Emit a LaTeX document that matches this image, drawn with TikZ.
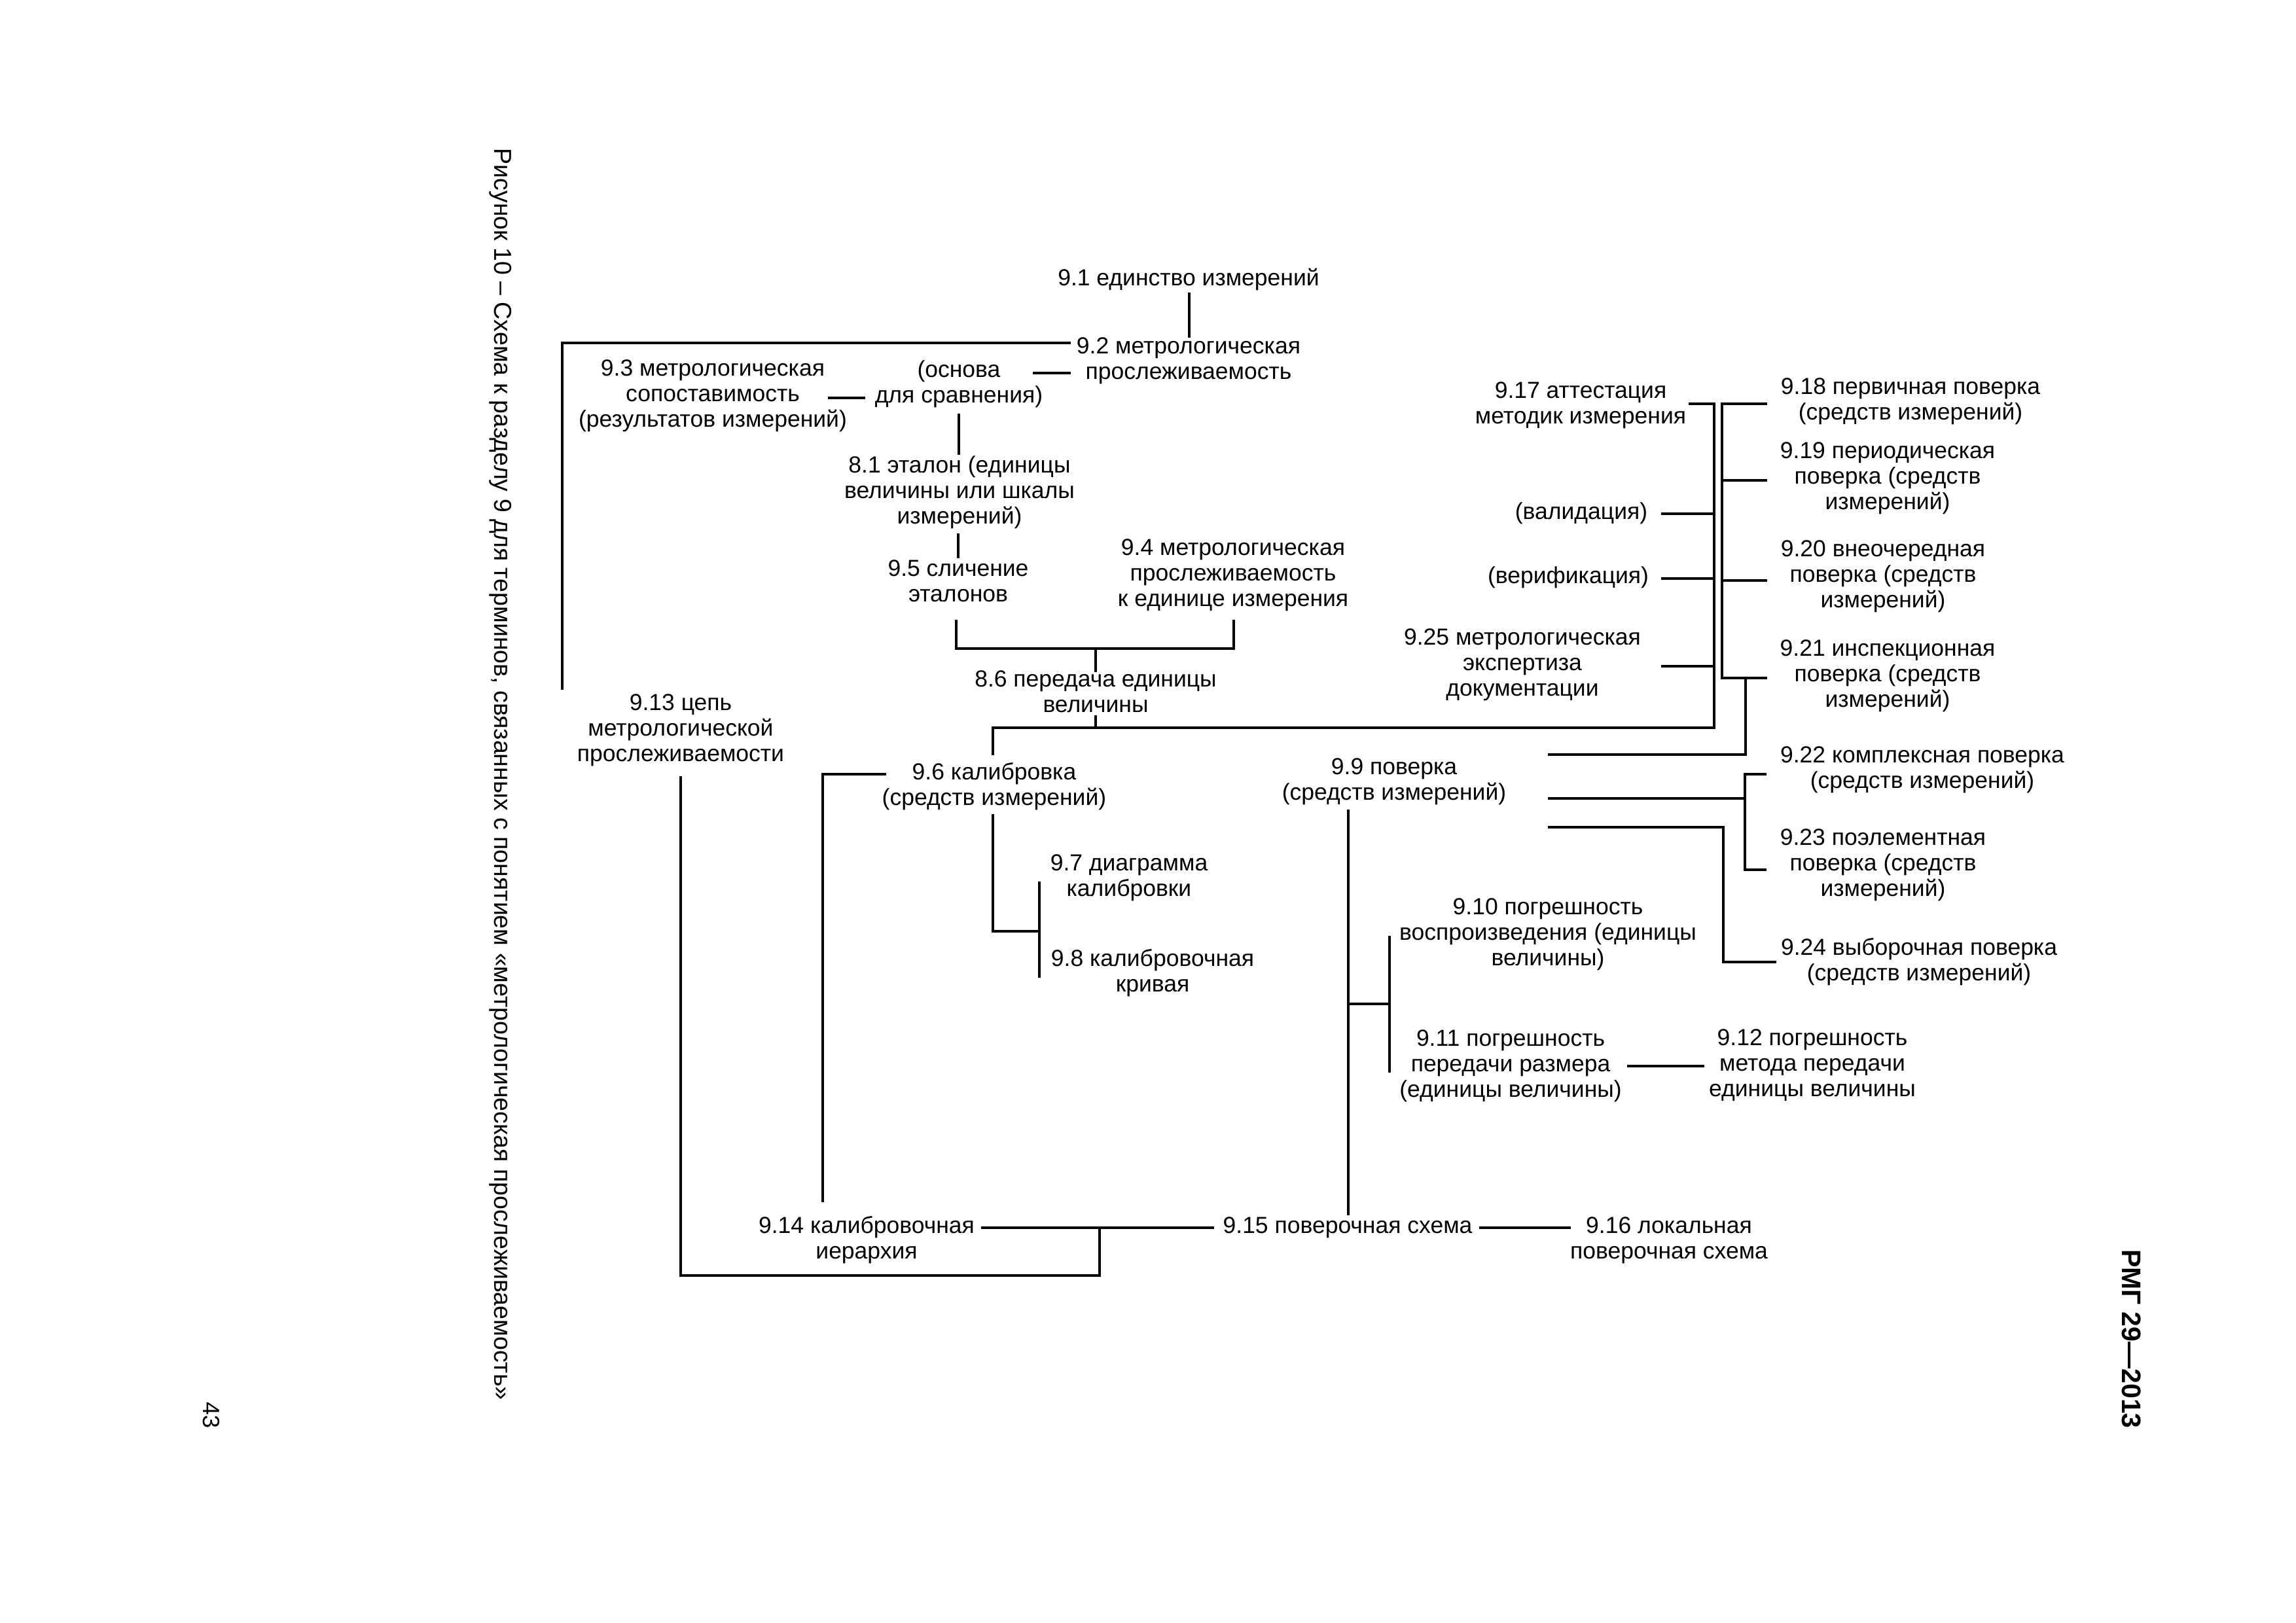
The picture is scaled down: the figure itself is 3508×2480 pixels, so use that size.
\documentclass[tikz,border=0pt]{standalone}
\usepackage{fontspec}
\setmainfont{Liberation Sans}
\usetikzlibrary{calc}
\begin{document}
\begin{tikzpicture}[x=1pt,y=-1pt,
  every node/.style={inner sep=0pt,outer sep=0pt},
  term/.style={align=center,font=\fontsize{35.5}{39}\selectfont},
  conn/.style={line width=3.6pt}]
\useasboundingbox[fill=white] (0,0) rectangle (3508,2480);

% nodes
\node[term] (n91) at (1816,427) {9.1 единство измерений};
\node[term] (n92) at (1816,551) {9.2 метрологическая\\прослеживаемость};
\node[term] (n93) at (1089,605) {9.3 метрологическая\\сопоставимость\\(результатов измерений)};
\node[term] (nosn) at (1465,587) {(основа\\для сравнения)};
\node[term] (n81) at (1466,752) {8.1 эталон (единицы\\величины или шкалы\\измерений)};
\node[term] (n95) at (1464,888) {9.5 сличение\\эталонов};
\node[term] (n94) at (1884,879) {9.4 метрологическая\\прослеживаемость\\к единице измерения};
\node[term] (n86) at (1674,1057) {8.6 передача единицы\\величины};
\node[term] (n913) at (1040,1116) {9.13 цепь\\метрологической\\прослеживаемости};
\node[term] (n96) at (1519,1202) {9.6 калибровка\\(средств измерений)};
\node[term] (n97) at (1725,1341) {9.7 диаграмма\\калибровки};
\node[term] (n98) at (1761,1487) {9.8 калибровочная\\кривая};
\node[term] (n99) at (2130,1194) {9.9 поверка\\(средств измерений)};
\node[term] (n910) at (2365,1428) {9.10 погрешность\\воспроизведения (единицы\\величины)};
\node[term] (n911) at (2308,1629) {9.11 погрешность\\передачи размера\\(единицы величины)};
\node[term] (n912) at (2769,1628) {9.12 погрешность\\метода передачи\\единицы величины};
\node[term] (n914) at (1324,1895) {9.14 калибровочная\\иерархия};
\node[term] (n915) at (2059,1876) {9.15 поверочная схема};
\node[term] (n916) at (2550,1895) {9.16 локальная\\поверочная схема};
\node[term] (n917) at (2415,619) {9.17 аттестация\\методик измерения};
\node[term] (nval) at (2416,784) {(валидация)};
\node[term] (nver) at (2396,882) {(верификация)};
\node[term] (n925) at (2326,1016) {9.25 метрологическая\\экспертиза\\документации};
\node[term] (n918) at (2919,613) {9.18 первичная поверка\\(средств измерений)};
\node[term] (n919) at (2884,731) {9.19 периодическая\\поверка (средств\\измерений)};
\node[term] (n920) at (2877,881) {9.20 внеочередная\\поверка (средств\\измерений)};
\node[term] (n921) at (2884,1033) {9.21 инспекционная\\поверка (средств\\измерений)};
\node[term] (n922) at (2937,1176) {9.22 комплексная поверка\\(средств измерений)};
\node[term] (n923) at (2877,1322) {9.23 поэлементная\\поверка (средств\\измерений)};
\node[term] (n924) at (2932,1470) {9.24 выборочная поверка\\(средств измерений)};

\node[rotate=-90,font=\fontsize{37.5}{44}\selectfont] (cap) at (765,1183) {Рисунок 10 – Схема к разделу 9 для терминов, связанных с понятием «метрологическая прослеживаемость»};
\node[rotate=-90,font=\fontsize{36}{42}\selectfont] (pg) at (323,2162) {43};
\node[rotate=-90,font=\bfseries\fontsize{41}{48}\selectfont] (std) at (3257,2046) {РМГ 29—2013};

% connectors
\draw[conn] ($(n91)+(1,20)$) -- ($(n92)+(1,-35)$);
\draw[conn] ($(n92)+(-180,-27)$) -| ($(n913)+(-181,-62)$);
\draw[conn] ($(n92)+(-180,19)$) -- ($(n92)+(-238,19)$);
\draw[conn] ($(nosn)+(-143,21)$) -- ($(n93)+(176,3)$);
\draw[conn] ($(nosn)+(0,45)$) -- ($(n81)+(-1,-57)$);
\draw[conn] ($(n81)+(-2,63)$) -- ($(n95)+(0,-35)$);
\coordinate (jb) at ($(n86)+(0,-66)$);
\draw[conn] ($(n95)+(-3,59)$) |- (jb) -| ($(n94)+(1,68)$);
\draw[conn] (jb) -- ($(n86)+(0,-30)$);
\coordinate (jg) at ($(n86)+(0,55)$);
\draw[conn] ($(n86)+(0,36)$) -- (jg);
\draw[conn] ($(n96)+(-2,-48)$) -- ($(n96)+(-2,-90)$) -| ($(n917)+(204,-2)$) -- ($(n917)+(165,-2)$);
\draw[conn] ($(n96)+(-165,-19)$) -| ($(n914)+(-67,-58)$);
\coordinate (jc) at ($(n97)+(-137,82)$);
\draw[conn] ($(n96)+(-2,42)$) |- (jc);
\draw[conn] ($(n97)+(-137,6)$) -- ($(n98)+(-173,7)$);
\draw[conn] ($(n913)+(0,70)$) |- ($(n914)+(356,54)$) -- ($(n914)+(356,-19)$);
\draw[conn] ($(n914)+(175,-19)$) -- ($(n915)+(-204,0)$);
\draw[conn] ($(n915)+(201,0)$) -- ($(n916)+(-150,-19)$);
\draw[conn] ($(n99)+(-70,43)$) -- ($(n915)+(1,-19)$);
\draw[conn] ($(n910)+(-242,2)$) -- ($(n911)+(-185,10)$);
\draw[conn] ($(n915)+(1,-342)$) -- ($(n910)+(-242,106)$);
\draw[conn] ($(n911)+(178,0)$) -- ($(n912)+(-165,1)$);
\draw[conn] ($(nval)+(122,1)$) -- ($(nval)+(203,1)$);
\draw[conn] ($(nver)+(142,2)$) -- ($(nver)+(223,2)$);
\draw[conn] ($(n925)+(212,2)$) -- ($(n925)+(293,2)$);
\draw[conn] ($(n918)+(-219,4)$) -- ($(n918)+(-288,4)$) |- ($(n921)+(-184,3)$);
\draw[conn] ($(n919)+(-253,3)$) -- ($(n919)+(-184,3)$);
\draw[conn] ($(n920)+(-246,6)$) -- ($(n920)+(-177,6)$);
\draw[conn] ($(n921)+(-217,3)$) |- ($(n99)+(235,-41)$);
\draw[conn] ($(n99)+(235,26)$) -- ($(n922)+(-271,44)$);
\draw[conn] ($(n922)+(-238,7)$) -| ($(n923)+(-211,7)$) -- ($(n923)+(-178,7)$);
\draw[conn] ($(n99)+(235,70)$) -| ($(n924)+(-299,0)$) -- ($(n924)+(-218,0)$);
\end{tikzpicture}
\end{document}
